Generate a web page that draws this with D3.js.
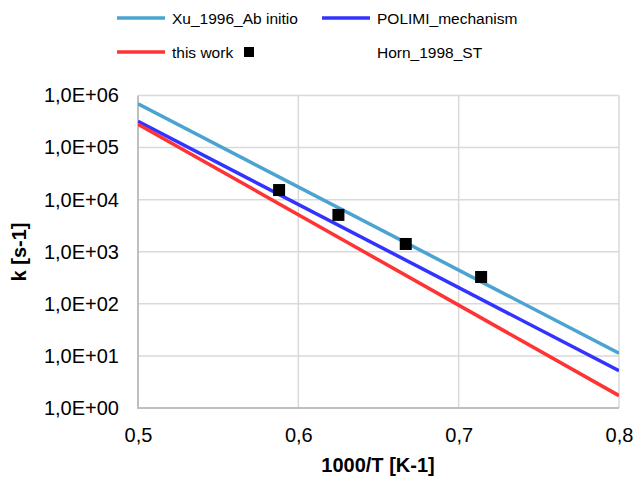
<!DOCTYPE html>
<html><head><meta charset="utf-8">
<script src="https://cdn.jsdelivr.net/npm/d3@7"></script>
<style>body{margin:0;background:#fff}svg{display:block;font-family:"Liberation Sans",Arial,sans-serif}</style>
</head><body><svg id="c" width="634" height="477"></svg>
<script>
// data
const xTicks = [0.5, 0.6, 0.7, 0.8];
const xTickLabels = ["0,5", "0,6", "0,7", "0,8"];
const yTicks = [1, 10, 100, 1000, 10000, 100000, 1000000];
const yTickLabels = ["1,0E+00", "1,0E+01", "1,0E+02", "1,0E+03", "1,0E+04", "1,0E+05", "1,0E+06"];
const lineX = [0.5, 0.8];
const xuValues = [6.9e5, 11.3];
const polimiValues = [3.2e5, 5.2];
const thisWorkValues = [2.8e5, 1.73];
const hornX = [0.588, 0.625, 0.667, 0.714];
const hornValues = [1.53e4, 5.1e3, 1.41e3, 328];

const svg = d3.select("#c");
const L = 138, R = 619, T = 95.5, B = 408;
const x = d3.scaleLinear().domain([0.5, 0.8]).range([L, R]);
const y = d3.scaleLog().domain([1, 1e6]).range([B, T]);

// gridlines
svg.append("g").selectAll("line").data(yTicks.slice(1)).join("line")
  .attr("x1", L).attr("x2", R).attr("y1", d => y(d)).attr("y2", d => y(d))
  .attr("stroke", "#d9d9d9").attr("stroke-width", 1.5);
svg.append("g").selectAll("line").data(xTicks.slice(1)).join("line")
  .attr("x1", d => x(d)).attr("x2", d => x(d)).attr("y1", T).attr("y2", B)
  .attr("stroke", "#d9d9d9").attr("stroke-width", 1.5);
// axes lines
svg.append("line").attr("x1", L).attr("x2", L).attr("y1", T).attr("y2", B + 1).attr("stroke", "#bfbfbf").attr("stroke-width", 2);
svg.append("line").attr("x1", L - 1).attr("x2", R).attr("y1", B).attr("y2", B).attr("stroke", "#bfbfbf").attr("stroke-width", 2);

// tick labels
const ya = d3.axisLeft(y).tickValues(yTicks).tickFormat((d, i) => yTickLabels[i]).tickSize(0).tickPadding(19);
const gy = svg.append("g").attr("transform", `translate(${L},0)`).call(ya);
gy.select(".domain").remove();
gy.selectAll("text").attr("font-size", 20).attr("fill", "#000").attr("font-family", "Liberation Sans, Arial");
const xa = d3.axisBottom(x).tickValues(xTicks).tickFormat((d, i) => xTickLabels[i]).tickSize(0).tickPadding(20);
const gx = svg.append("g").attr("transform", `translate(0,${B})`).call(xa);
gx.select(".domain").remove();
gx.selectAll("text").attr("font-size", 20).attr("fill", "#000").attr("font-family", "Liberation Sans, Arial");

// lines
const series = [
  {vals: xuValues, color: "#4ba3d1"},
  {vals: polimiValues, color: "#3333ff"},
  {vals: thisWorkValues, color: "#ff3333"}
];
const line = d3.line().x(d => x(d[0])).y(d => y(d[1]));
svg.append("defs").append("clipPath").attr("id", "clip").append("rect").attr("x", L).attr("y", T - 5).attr("width", R - L).attr("height", B - T + 5);
series.forEach(s => {
  svg.append("path").datum(lineX.map((v, i) => [v, s.vals[i]])).attr("d", line)
    .attr("fill", "none").attr("stroke", s.color).attr("stroke-width", 3.5).attr("clip-path", "url(#clip)");
});
// points
svg.append("g").selectAll("rect").data(hornX.map((v, i) => [v, hornValues[i]])).join("rect")
  .attr("x", d => x(d[0]) - 6).attr("y", d => y(d[1]) - 6).attr("width", 12).attr("height", 12).attr("fill", "#000");

// axis titles
svg.append("text").attr("x", 378).attr("y", 472).attr("text-anchor", "middle").attr("font-weight", "bold").attr("font-size", 20).text("1000/T [K-1]");
svg.append("text").attr("transform", "translate(26,252) rotate(-90)").attr("text-anchor", "middle").attr("font-weight", "bold").attr("font-size", 20).text("k [s-1]");

// legend
const leg = [
  {label: "Xu_1996_Ab initio", color: "#4ba3d1", type: "line", lx: 117, ly: 18},
  {label: "POLIMI_mechanism", color: "#3333ff", type: "line", lx: 322, ly: 18},
  {label: "this work", color: "#ff3333", type: "line", lx: 117, ly: 52},
  {label: "Horn_1998_ST", color: "#000", type: "rect", lx: 322, ly: 52}
];
leg.forEach(d => {
  if (d.type === "line") {
    svg.append("line").attr("x1", d.lx).attr("x2", d.lx + 48).attr("y1", d.ly).attr("y2", d.ly).attr("stroke", d.color).attr("stroke-width", 3.5);
  } else {
    svg.append("rect").attr("x", 244).attr("y", d.ly - 5).attr("width", 10).attr("height", 10).attr("fill", "#000");
  }
  svg.append("text").attr("x", d.lx + 55).attr("y", d.ly + 5.5).attr("font-size", 15.5).text(d.label);
});
</script></body></html>
